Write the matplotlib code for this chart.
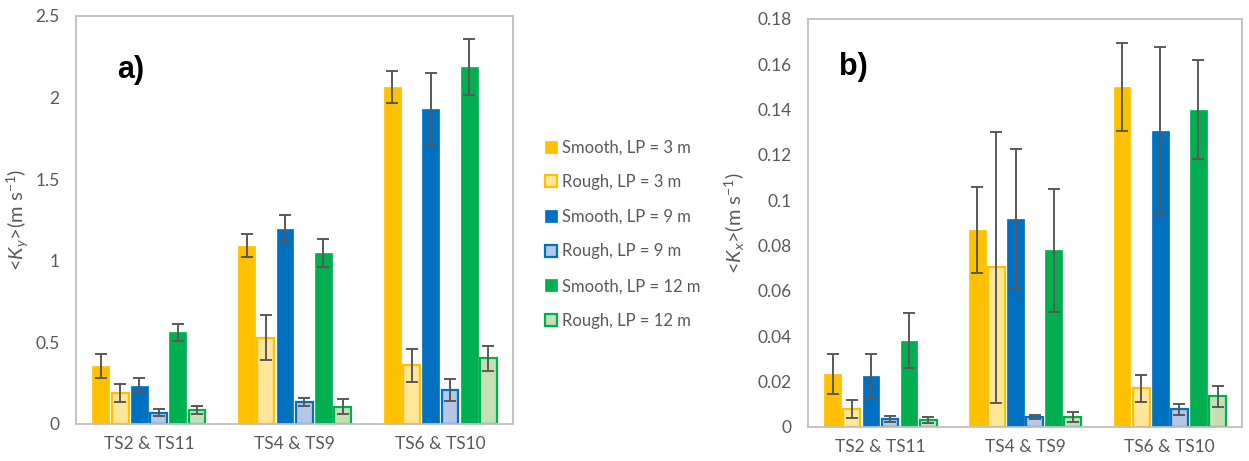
import numpy as np
import matplotlib.pyplot as plt
from matplotlib.ticker import FuncFormatter

plt.rcParams['font.family'] = ['Lato', 'DejaVu Sans']
plt.rcParams['mathtext.fontset'] = 'custom'
plt.rcParams['mathtext.it'] = 'Lato:italic'
plt.rcParams['mathtext.rm'] = 'Lato'

groups = ['TS2 & TS11', 'TS4 & TS9', 'TS6 & TS10']
series = ['Smooth, LP = 3 m', 'Rough, LP = 3 m', 'Smooth, LP = 9 m',
          'Rough, LP = 9 m', 'Smooth, LP = 12 m', 'Rough, LP = 12 m']

# <Ky> values and errors, one row per series
ky = [[0.355, 1.092, 2.065],
      [0.188, 0.529, 0.359],
      [0.233, 1.196, 1.933],
      [0.069, 0.135, 0.208],
      [0.561, 1.046, 2.188],
      [0.086, 0.106, 0.402]]
ky_err = [[0.075, 0.07, 0.10],
          [0.055, 0.14, 0.10],
          [0.046, 0.085, 0.22],
          [0.023, 0.025, 0.07],
          [0.05, 0.086, 0.17],
          [0.027, 0.047, 0.075]]

# <Kx> values and errors
kx = [[0.0233, 0.087, 0.150],
      [0.0079, 0.0704, 0.0171],
      [0.0224, 0.0918, 0.1307],
      [0.0035, 0.0044, 0.0079],
      [0.0381, 0.0779, 0.140],
      [0.0029, 0.0044, 0.0135]]
kx_err = [[0.0088, 0.019, 0.0196],
          [0.004, 0.0597, 0.006],
          [0.0099, 0.031, 0.037],
          [0.0013, 0.001, 0.0024],
          [0.012, 0.027, 0.0218],
          [0.0013, 0.0024, 0.0047]]

faces = ['#FFC000', '#FFE699', '#0070C0', '#B4C7E7', '#00B050', '#C5E0B4']
edges = ['#FFC000', '#FFC000', '#0070C0', '#0070C0', '#00B050', '#00B050']
grey = '#595959'

fig = plt.figure(figsize=(12.49, 4.61), dpi=100)
ax1 = fig.add_axes([0.0609, 0.0803, 0.350, 0.885])
ax2 = fig.add_axes([0.647, 0.0738, 0.3475, 0.885])

x = np.arange(len(groups))
pitch = 0.132
width = 0.116


def draw(ax, vals, errs, ymax, step, ylabel, lpad, tag, tagx, tagy):
    for i in range(len(series)):
        rough = i % 2 == 1
        ax.bar(x + (i - 2.5) * pitch, vals[i], width, color=faces[i],
               edgecolor=edges[i], linewidth=1.6 if rough else 0.5,
               label=series[i], zorder=2)
        ax.errorbar(x + (i - 2.5) * pitch, vals[i], yerr=errs[i], fmt='none',
                    ecolor=grey, elinewidth=1.4, capsize=4, capthick=1.4,
                    zorder=3)
    ax.set_xlim(-0.5, 2.5)
    ax.set_ylim(0, ymax)
    ax.set_yticks(np.arange(0, ymax + step / 2, step))
    ax.yaxis.set_major_formatter(FuncFormatter(lambda v, p: '{:g}'.format(round(v, 3))))
    ax.set_xticks(x)
    ax.set_xticklabels(groups)
    ax.tick_params(length=0, labelsize=12.5, labelcolor=grey)
    ax.tick_params(axis='y', pad=12)
    ax.tick_params(axis='x', pad=9)
    for s in ax.spines.values():
        s.set_color('#BFBFBF')
        s.set_linewidth(1.3)
    ax.set_ylabel(ylabel, fontsize=14.5, color=grey, labelpad=lpad)
    ax.text(tagx, tagy, tag, transform=ax.transAxes, fontsize=22,
            fontweight='bold', va='center', ha='left',
            family='Liberation Sans')


draw(ax1, ky, ky_err, 2.5, 0.5, r'<$K_y$>(m s$^{-1}$)', 3, 'a)', 0.093, 0.868)
draw(ax2, kx, kx_err, 0.18, 0.02, r'<$K_x$>(m s$^{-1}$)', 7, 'b)', 0.072, 0.882)

handles, labels = ax1.get_legend_handles_labels()
fig.legend(handles, labels, loc='upper left', bbox_to_anchor=(0.424, 0.73),
           frameon=False, fontsize=12, labelcolor=grey, handlelength=0.75,
           handleheight=0.75, handletextpad=0.3, labelspacing=1.12)

fig.savefig('out.png', dpi=100)
